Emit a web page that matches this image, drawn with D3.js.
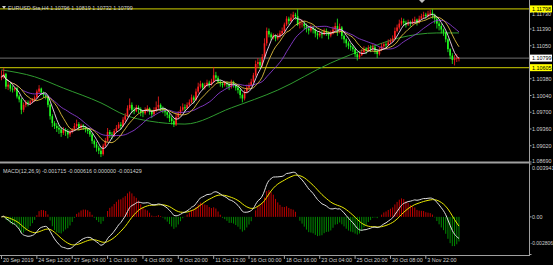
<!DOCTYPE html>
<html>
<head>
<meta charset="utf-8">
<script src="https://cdn.jsdelivr.net/npm/d3@7"></script>
<style>
  body { margin: 0; background: #000; }
  svg { display: block; }
  text { font-family: "Liberation Sans", Arial, sans-serif; font-size: 5.4px; fill: #d0d0d0; }
</style>
</head>
<body>
<div class="chart"></div>
<script>
// EURUSD H4 bars (open = previous close)
const firstOpen = 1.1040;
const close = [
  1.1042, 1.1048, 1.1022, 1.1026, 1.1018, 1.1016, 1.1019, 1.1002,
  1.0996, 1.0975, 1.0985, 1.0990, 1.0988, 1.0992, 1.0995, 1.1000,
  1.1012, 1.1018, 1.1010, 1.1005, 1.1002, 1.0985, 1.0962, 1.0948,
  1.0942, 1.0938, 1.0935, 1.0928, 1.0934, 1.0931, 1.0925, 1.0930,
  1.0935, 1.0942, 1.0946, 1.0938, 1.0943, 1.0940, 1.0936, 1.0932,
  1.0925, 1.0912, 1.0905, 1.0898, 1.0892, 1.0885, 1.0902, 1.0912,
  1.0930, 1.0925, 1.0922, 1.0932, 1.0938, 1.0945, 1.0942, 1.0955,
  1.0962, 1.0978, 1.0985, 1.0975, 1.0972, 1.0980, 1.0976, 1.0970,
  1.0968, 1.0975, 1.0978, 1.0972, 1.0966, 1.0974, 1.0980, 1.0985,
  1.0978, 1.0975, 1.0970, 1.0965, 1.0958, 1.0952, 1.0945, 1.0960,
  1.0968, 1.0975, 1.0980, 1.0978, 1.0985, 1.0990, 1.1000, 1.0995,
  1.1012, 1.1022, 1.1028, 1.1020, 1.1025, 1.1030, 1.1026, 1.1032,
  1.1045, 1.1040, 1.1032, 1.1028, 1.1025, 1.1030, 1.1027, 1.1022,
  1.1030, 1.1026, 1.1020, 1.1015, 1.1005, 1.0998, 1.1012, 1.1020,
  1.1025, 1.1032, 1.1045, 1.1068, 1.1072, 1.1065, 1.1082, 1.1110,
  1.1135, 1.1128, 1.1122, 1.1126, 1.1120, 1.1124, 1.1130, 1.1135,
  1.1148, 1.1160, 1.1155, 1.1162, 1.1168, 1.1165, 1.1148, 1.1150,
  1.1150, 1.1145, 1.1140, 1.1136, 1.1142, 1.1138, 1.1130, 1.1126,
  1.1130, 1.1128, 1.1135, 1.1132, 1.1126, 1.1130, 1.1138, 1.1145,
  1.1135, 1.1142, 1.1125, 1.1118, 1.1110, 1.1105, 1.1102, 1.1098,
  1.1088, 1.1082, 1.1086, 1.1092, 1.1098, 1.1095, 1.1100, 1.1098,
  1.1102, 1.1095, 1.1088, 1.1096, 1.1104, 1.1108, 1.1106, 1.1112,
  1.1115, 1.1120, 1.1135, 1.1142, 1.1150, 1.1155, 1.1152, 1.1148,
  1.1152, 1.1150, 1.1155, 1.1158, 1.1152, 1.1160, 1.1165, 1.1168,
  1.1165, 1.1170, 1.1172, 1.1168, 1.1160, 1.1150, 1.1145, 1.1138,
  1.1132, 1.1118, 1.1098, 1.1085, 1.1076, 1.1078, 1.10796, 1.10799
];
const high = [
  1.1055, 1.1060, 1.1050, 1.1032, 1.1030, 1.1024, 1.1022, 1.1021,
  1.1005, 1.0999, 1.0990, 1.0995, 1.0994, 1.0996, 1.0999, 1.1004,
  1.1016, 1.1025, 1.1020, 1.1012, 1.1008, 1.1004, 1.0988, 1.0966,
  1.0952, 1.0948, 1.0945, 1.0940, 1.0940, 1.0938, 1.0936, 1.0934,
  1.0938, 1.0948, 1.0955, 1.0950, 1.0947, 1.0946, 1.0942, 1.0938,
  1.0936, 1.0928, 1.0915, 1.0910, 1.0902, 1.0898, 1.0906, 1.0918,
  1.0938, 1.0934, 1.0930, 1.0936, 1.0944, 1.0950, 1.0950, 1.0960,
  1.0968, 1.0984, 1.0998, 1.0990, 1.0980, 1.0985, 1.0984, 1.0980,
  1.0975, 1.0980, 1.0984, 1.0980, 1.0975, 1.0980, 1.0992, 1.1002,
  1.0988, 1.0982, 1.0978, 1.0975, 1.0968, 1.0962, 1.0956, 1.0968,
  1.0972, 1.0982, 1.0988, 1.0986, 1.0990, 1.0996, 1.1006, 1.1004,
  1.1018, 1.1030, 1.1034, 1.1030, 1.1030, 1.1036, 1.1034, 1.1038,
  1.1062, 1.1052, 1.1044, 1.1036, 1.1032, 1.1034, 1.1032, 1.1030,
  1.1036, 1.1034, 1.1028, 1.1024, 1.1018, 1.1008, 1.1016, 1.1026,
  1.1030, 1.1038, 1.1050, 1.1075, 1.1080, 1.1078, 1.1088, 1.1120,
  1.1142, 1.1140, 1.1132, 1.1130, 1.1128, 1.1130, 1.1136, 1.1142,
  1.1152, 1.1165, 1.1164, 1.1170, 1.1174, 1.1172, 1.1179, 1.1160,
  1.1158, 1.1155, 1.1150, 1.1145, 1.1148, 1.1146, 1.1140, 1.1134,
  1.1136, 1.1135, 1.1140, 1.1140, 1.1134, 1.1136, 1.1144, 1.1152,
  1.1160, 1.1150, 1.1145, 1.1128, 1.1120, 1.1114, 1.1110, 1.1106,
  1.1100, 1.1092, 1.1092, 1.1098, 1.1104, 1.1102, 1.1106, 1.1106,
  1.1108, 1.1105, 1.1098, 1.1102, 1.1110, 1.1112, 1.1112, 1.1118,
  1.1120, 1.1126, 1.1142, 1.1148, 1.1158, 1.1162, 1.1160, 1.1156,
  1.1158, 1.1156, 1.1160, 1.1164, 1.1160, 1.1166, 1.1170, 1.1174,
  1.1172, 1.1176, 1.1178, 1.1179, 1.1170, 1.1164, 1.1155, 1.1150,
  1.1140, 1.1134, 1.1120, 1.1100, 1.1090, 1.1086, 1.1088, 1.10819
];
const low = [
  1.1035, 1.1038, 1.1017, 1.1015, 1.1012, 1.1010, 1.1012, 1.0998,
  1.0990, 1.0966, 1.0970, 1.0980, 1.0982, 1.0985, 1.0988, 1.0992,
  1.0998, 1.1008, 1.1005, 1.1000, 1.0996, 1.0980, 1.0955, 1.0940,
  1.0936, 1.0930, 1.0926, 1.0920, 1.0924, 1.0922, 1.0917, 1.0920,
  1.0927, 1.0932, 1.0938, 1.0933, 1.0935, 1.0934, 1.0929, 1.0926,
  1.0920, 1.0906, 1.0898, 1.0890, 1.0885, 1.0879, 1.0882, 1.0898,
  1.0910, 1.0918, 1.0915, 1.0920, 1.0930, 1.0936, 1.0935, 1.0940,
  1.0950, 1.0960, 1.0974, 1.0968, 1.0966, 1.0970, 1.0968, 1.0962,
  1.0960, 1.0965, 1.0970, 1.0965, 1.0958, 1.0962, 1.0970, 1.0976,
  1.0972, 1.0968, 1.0962, 1.0958, 1.0950, 1.0945, 1.0940, 1.0942,
  1.0956, 1.0965, 1.0972, 1.0970, 1.0976, 1.0982, 1.0988, 1.0988,
  1.0993, 1.1008, 1.1018, 1.1015, 1.1016, 1.1022, 1.1020, 1.1024,
  1.1030, 1.1035, 1.1028, 1.1022, 1.1020, 1.1022, 1.1020, 1.1015,
  1.1018, 1.1020, 1.1014, 1.1008, 1.0998, 1.0990, 1.0994, 1.1008,
  1.1016, 1.1022, 1.1030, 1.1042, 1.1060, 1.1058, 1.1062, 1.1080,
  1.1105, 1.1122, 1.1116, 1.1118, 1.1114, 1.1116, 1.1120, 1.1126,
  1.1130, 1.1145, 1.1148, 1.1152, 1.1158, 1.1158, 1.1145, 1.1140,
  1.1142, 1.1138, 1.1132, 1.1128, 1.1132, 1.1130, 1.1122, 1.1118,
  1.1122, 1.1120, 1.1126, 1.1125, 1.1118, 1.1122, 1.1128, 1.1135,
  1.1125, 1.1130, 1.1118, 1.1110, 1.1102, 1.1098, 1.1095, 1.1092,
  1.1082, 1.1075, 1.1078, 1.1084, 1.1090, 1.1088, 1.1093, 1.1092,
  1.1094, 1.1088, 1.1080, 1.1085, 1.1094, 1.1100, 1.1100, 1.1104,
  1.1108, 1.1112, 1.1118, 1.1132, 1.1138, 1.1146, 1.1145, 1.1142,
  1.1145, 1.1144, 1.1148, 1.1150, 1.1146, 1.1150, 1.1158, 1.1160,
  1.1160, 1.1162, 1.1164, 1.1160, 1.1150, 1.1140, 1.1136, 1.1130,
  1.1125, 1.1112, 1.1092, 1.1078, 1.1068, 1.1065, 1.1072, 1.10732
];

// slow (green) moving average, read as [bar, price]
const slowMA = [
  [0, 1.1056], [15, 1.1042], [28, 1.1019], [45, 1.0989], [56, 1.0964],
  [67, 1.0952], [83, 1.0946], [104, 1.0979], [125, 1.1015], [149, 1.1070],
  [167, 1.1102], [180, 1.1121], [197, 1.1131], [207, 1.1131]
];

const priceTicks = [1.11730, 1.11390, 1.11050, 1.10380, 1.10040, 1.09700, 1.09360, 1.09020, 1.08690];
const levelLines = [1.11798, 1.10605];   // yellow horizontal lines
const bidPrice = 1.10799;
const timeLabels = ["20 Sep 2019", "24 Sep 12:00", "27 Sep 04:00", "1 Oct 16:00", "4 Oct 08:00",
  "8 Oct 20:00", "11 Oct 12:00", "16 Oct 00:00", "18 Oct 16:00", "23 Oct 04:00",
  "25 Oct 20:00", "30 Oct 08:00", "3 Nov 22:00"];
const timeLabelStep = 16;
const macdTicks = [0.003941, 0, -0.002806];
const headerText = "EURUSD.Sta,H4  1.10796 1.10819 1.10732 1.10799";
const macdText = "MACD(12,26,9) -0.001715 -0.000616 0.000000 -0.001429";

const W = 553, H = 265;
const axisX = 529;

const svg = d3.select(".chart").append("svg")
  .attr("width", W)
  .attr("height", H);

svg.append("rect").attr("width", W).attr("height", H).attr("fill", "#000");

//scales
const xScale = d3.scaleLinear()
  .domain([0, close.length - 1])
  .range([1.5, 1.5 + (close.length - 1) * 2.21]);

const yScale = d3.scaleLinear()
  .domain([1.08690, 1.11390])
  .range([162, 29]);

const yMacd = d3.scaleLinear()
  .domain([macdTicks[2], macdTicks[0]])
  .range([254.5, 164]);

//candles
const bars = close.map((c, i) => {
  const o = i === 0 ? firstOpen : close[i - 1];
  return { i, o, c, h: Math.max(high[i], o, c), l: Math.min(low[i], o, c) };
});

//indicators
const sma = (arr, n) => arr.map((_, i) => d3.mean(arr.slice(Math.max(0, i - n + 1), i + 1)));
const ema = (arr, n) => {
  const k = 2 / (n + 1);
  let e = arr[0];
  return arr.map(v => (e = e + k * (v - e)));
};
const ma5 = sma(close, 5);
const ma10 = sma(close, 10);
const ma20 = sma(close, 20);
const ema12 = ema(close, 12);
const ema26 = ema(close, 26);
const dif = ema12.map((v, i) => v - ema26[i]);
const dea = ema(dif, 9);
const hist = dif.map((v, i) => 2 * (v - dea[i]));

//main panel clip
svg.append("defs").append("clipPath").attr("id", "main-clip")
  .append("rect").attr("x", 0).attr("y", 0).attr("width", axisX).attr("height", 161);

const main = svg.append("g").attr("clip-path", "url(#main-clip)");

//horizontal level lines
main.selectAll(".level")
  .data(levelLines)
  .enter().append("line")
  .attr("x1", 0).attr("x2", axisX)
  .attr("y1", d => yScale(d)).attr("y2", d => yScale(d))
  .style("stroke", "#a8a800")
  .style("stroke-width", "1.2px");

main.append("line")
  .attr("x1", 0).attr("x2", axisX)
  .attr("y1", yScale(bidPrice)).attr("y2", yScale(bidPrice))
  .style("stroke", "#8c8c8c")
  .style("stroke-width", "0.8px");

//slow MA
const lineGen = d3.line()
  .x(d => xScale(d[0]))
  .y(d => yScale(d[1]));
main.append("path")
  .attr("d", lineGen.curve(d3.curveMonotoneX)(slowMA))
  .style("fill", "none")
  .style("stroke", "#2f9a2f")
  .style("stroke-width", "1px");

//candles
const candle = main.selectAll(".candle")
  .data(bars)
  .enter().append("g")
  .attr("class", "candle");
candle.append("line")
  .attr("x1", d => xScale(d.i)).attr("x2", d => xScale(d.i))
  .attr("y1", d => yScale(d.h)).attr("y2", d => yScale(d.l))
  .style("stroke", d => d.c >= d.o ? "#ff2020" : "#20ff20")
  .style("stroke-width", "0.8px");
candle.append("rect")
  .attr("x", d => xScale(d.i) - 0.8)
  .attr("width", 1.6)
  .attr("y", d => yScale(Math.max(d.o, d.c)))
  .attr("height", d => Math.max(0.6, Math.abs(yScale(d.o) - yScale(d.c))))
  .style("fill", d => d.c >= d.o ? "#ff2020" : "#20ff20");

//fast MAs
const maLine = d3.line()
  .x((d, i) => xScale(i))
  .y(d => yScale(d));
[[ma20, "#8a3cd0"], [ma10, "#e0c040"], [ma5, "#f4d8f4"]].forEach(([vals, col]) => {
  main.append("path")
    .attr("d", maLine(vals))
    .style("fill", "none")
    .style("stroke", col)
    .style("stroke-width", "0.9px");
});

//shift marker triangle at top
svg.append("path")
  .attr("d", "M419,0 L425,0 L422,3 Z")
  .style("fill", "#c0c0c0");

//header
svg.append("path")
  .attr("d", "M2,6 L6,6 L4,9 Z")
  .style("fill", "#d0d0d0");
svg.append("text")
  .attr("x", 8).attr("y", 9.5)
  .text(headerText);

//MACD histogram
const macdG = svg.append("g");
macdG.selectAll(".hist")
  .data(hist)
  .enter().append("line")
  .attr("x1", (d, i) => xScale(i)).attr("x2", (d, i) => xScale(i))
  .attr("y1", yMacd(0)).attr("y2", d => yMacd(d))
  .style("stroke", d => d >= 0 ? "#c00000" : "#008a00")
  .style("stroke-width", "1px");

const macdLine = d3.line()
  .curve(d3.curveMonotoneX)
  .x((d, i) => xScale(i))
  .y(d => yMacd(d));
macdG.append("path")
  .attr("d", macdLine(dea))
  .style("fill", "none")
  .style("stroke", "#e8e800")
  .style("stroke-width", "1px");
macdG.append("path")
  .attr("d", macdLine(dif))
  .style("fill", "none")
  .style("stroke", "#e0e0e0")
  .style("stroke-width", "1px");

svg.append("text")
  .attr("x", 3).attr("y", 173)
  .text(macdText);

//panel frame
svg.append("rect")
  .attr("x", 0).attr("y", 161.5)
  .attr("width", axisX).attr("height", 2)
  .style("fill", "#a0a0a0");
svg.append("line")
  .attr("x1", 0).attr("x2", axisX + 0.5)
  .attr("y1", 255.5).attr("y2", 255.5)
  .style("stroke", "#a0a0a0")
  .style("stroke-width", "1px");
svg.append("line")
  .attr("x1", axisX + 0.5).attr("x2", axisX + 0.5)
  .attr("y1", 0).attr("y2", 256)
  .style("stroke", "#a0a0a0")
  .style("stroke-width", "1px");

//price axis
const priceAxis = svg.append("g");
priceAxis.selectAll(".tick")
  .data(priceTicks)
  .enter().append("g")
  .each(function (d, k) {
    const g = d3.select(this);
    g.append("line")
      .attr("x1", axisX).attr("x2", axisX + 2.5)
      .attr("y1", yScale(d)).attr("y2", yScale(d))
      .style("stroke", "#a0a0a0");
    // the top tick peeks out under the level tag, the bottom one sits on the panel edge
    const dy = k === 0 ? 3.6 : (k === priceTicks.length - 1 ? 1.2 : 2);
    g.append("text")
      .attr("x", 532).attr("y", yScale(d) + dy)
      .text(d.toFixed(5));
  });

//highlighted price labels
const tagData = [
  { v: levelLines[0], fill: "#ffff00" },
  { v: levelLines[1], fill: "#ffff00" },
  { v: bidPrice, fill: "#ffffff" }
];
tagData.forEach(t => {
  const y = yScale(t.v);
  svg.append("rect")
    .attr("x", axisX + 1).attr("y", y - 3.5)
    .attr("width", 22).attr("height", 7)
    .style("fill", t.fill);
  svg.append("text")
    .attr("x", 532).attr("y", y + 2)
    .style("fill", "#000")
    .text(t.v.toFixed(5));
});

//macd axis labels
svg.append("text").attr("x", 532).attr("y", yMacd(macdTicks[0]) + 5.5).text(macdTicks[0].toFixed(6));
svg.append("text").attr("x", 532).attr("y", yMacd(0) + 2).text("0.00");
svg.append("text").attr("x", 530.5).attr("y", yMacd(macdTicks[2]) - 10)
  .style("font-size", "5px")
  .text(macdTicks[2].toFixed(6));
[macdTicks[0], 0, macdTicks[2]].forEach(v => {
  svg.append("line")
    .attr("x1", axisX).attr("x2", axisX + 2.5)
    .attr("y1", yMacd(v)).attr("y2", yMacd(v))
    .style("stroke", "#a0a0a0");
});

//time axis
const timeAxis = svg.append("g");
timeLabels.forEach((lab, k) => {
  const x = xScale(k * timeLabelStep);
  timeAxis.append("line")
    .attr("x1", x).attr("x2", x)
    .attr("y1", 256).attr("y2", 259)
    .style("stroke", "#a0a0a0");
  timeAxis.append("text")
    .attr("x", x + 1.5).attr("y", 262)
    .text(lab);
});
</script>
</body>
</html>
